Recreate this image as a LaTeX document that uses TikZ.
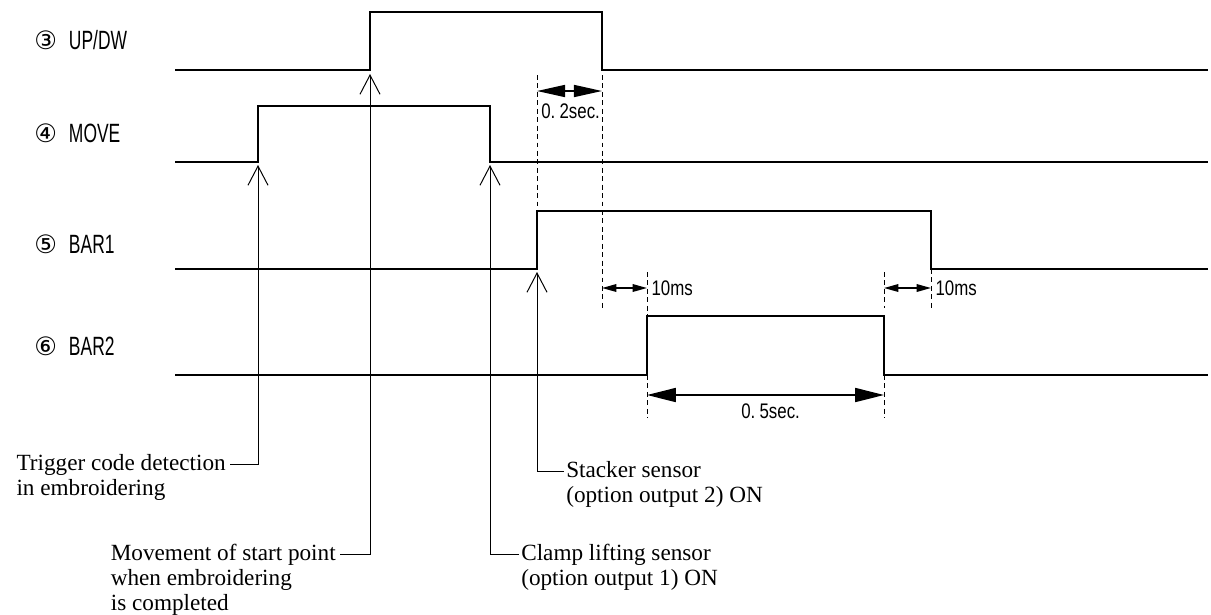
\documentclass[tikz,border=0pt]{standalone}
\usepackage{fontspec}
\setmainfont{Liberation Serif}
\newfontfamily\sigfont[FakeStretch=0.66]{Liberation Sans}
\newfontfamily\durfont[FakeStretch=0.8]{Liberation Sans}
\newfontfamily\circfont{DejaVu Sans}
\usetikzlibrary{positioning, calc, arrows.meta}

\newcommand{\signame}[2]{{\circfont\fontsize{18}{20}\selectfont #1}\hspace{0.3cm}#2}

\begin{document}
\begin{tikzpicture}[x=0.025cm, y=-0.025cm,
    wave/.style={line width=1.9pt},
    guide/.style={line width=0.6pt, dash pattern=on 3.5pt off 2.5pt},
    pointer/.style={line width=0.7pt, -{Straight Barb[length=0.48cm, width=0.5cm, line width=0.7pt]}},
    dimarrow/.style 2 args={line width=1.1pt, {Triangle[length=#1, width=#2]}-{Triangle[length=#1, width=#2]}},
    sig/.style={font=\sigfont\fontsize{18.8}{20}\selectfont, anchor=west, inner sep=0pt},
    dur/.style={font=\durfont\fontsize{15}{17}\selectfont, inner sep=0pt},
    note/.style={font=\fontsize{16.5}{17.7}\selectfont, align=left, inner sep=0pt}]

\useasboundingbox (0,0) rectangle (1211,614);

% signal names
\node[sig] (updw) at (34,40)  {\signame{③}{UP/DW}};
\node[sig] (move) at (34,133) {\signame{④}{MOVE}};
\node[sig] (bar1) at (34,244) {\signame{⑤}{BAR1}};
\node[sig] (bar2) at (34,346) {\signame{⑥}{BAR2}};

% waveforms
\draw[wave] (175,70) -| (370,12) -| (602,70) -- (1208,70);
\draw[wave] (175,162) -| (258,106) -| (490,162) -- (1208,162);
\draw[wave] (175,269) -| (537,211) -| (931,269) -- (1208,269);
\draw[wave] (175,375) -| (647,316) -| (884,375) -- (1208,375);

% dashed guides
\draw[guide] (537,75) -- (537,211);
\draw[guide] (602,75) -- (602,308);
\draw[guide] (647,272) -- (647,316);
\draw[guide] (884,272) -- (884,308);
\draw[guide] (931,269) -- (931,308);
\draw[guide] (647,375) -- (647,418);
\draw[guide] (884,375) -- (884,418);

% time spans
\coordinate (s1a) at (537,91);  \coordinate (s1b) at (602,91);
\coordinate (s2a) at (602,288); \coordinate (s2b) at (647,288);
\coordinate (s3a) at (884,288); \coordinate (s3b) at (931,288);
\coordinate (s4a) at (647,395); \coordinate (s4b) at (884,395);
\draw[dimarrow={0.7cm}{0.3cm}] (s1a) -- (s1b);
\draw[dimarrow={0.36cm}{0.19cm}] (s2a) -- (s2b);
\draw[dimarrow={0.36cm}{0.19cm}] (s3a) -- (s3b);
\draw[dimarrow={0.72cm}{0.35cm}] (s4a) -- (s4b);

\node[dur, anchor=west] (d02) at (541,111) {0.\hspace{3pt}2sec.};
\node[dur, right=3pt of s2b] (d10a) {10ms};
\node[dur, right=3pt of s3b] (d10b) {10ms};
\node[dur, anchor=west] (d05) at (741,411) {0.\hspace{3pt}5sec.};

% pointer tips
\coordinate (tipmove) at (258,165);
\coordinate (tipup) at (370,74);
\coordinate (tipclamp) at (490,165);
\coordinate (tipbar) at (537,272);

% notes
\node[note, anchor=north east] (trig) at (226,454) {Trigger code detection\\in embroidering};
\node[note, anchor=north east] (startpt) at (336,544) {Movement of start point\\when embroidering\\is completed};
\node[note, anchor=north west] (clamp) at (521,544) {Clamp lifting sensor\\(option output 1) ON};
\node[note, anchor=north west] (stack) at (566,461) {Stacker sensor\\(option output 2) ON};

\draw[pointer] ($(trig.north east)+(4,10)$) -| (tipmove);
\draw[pointer] ($(startpt.north east)+(4,10)$) -| (tipup);
\draw[pointer] ($(clamp.north west)+(-2,10)$) -| (tipclamp);
\draw[pointer] ($(stack.north west)+(-2,10)$) -| (tipbar);
\end{tikzpicture}
\end{document}
